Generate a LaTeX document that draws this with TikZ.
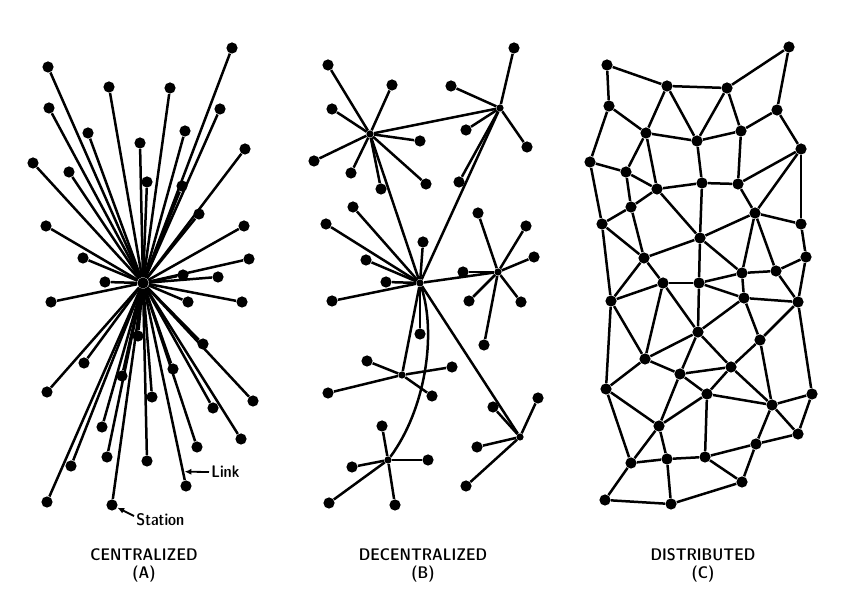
\documentclass[tikz,border=0pt]{standalone}
\usetikzlibrary{arrows.meta}
\tikzset{
    station/.style={ % a station of the network
        circle, fill=black, inner sep=0pt,
        minimum size=5.6pt
    },
    switch/.style={ % small hub of a decentralized star
        circle, fill=black, inner sep=0pt,
        minimum size=3.6pt
    },
    every edge/.style={ % the links
        draw,
        line width=1.25pt
    },
    pointer/.style={draw, line width=0.9pt, -{Latex[length=3.4pt,width=3pt]}},
    caption/.style={font=\sffamily\fontseries{sbc}\fontsize{8.4}{9}\selectfont, align=center},
    tag/.style={font=\sffamily\fontseries{sbc}\fontsize{8.4}{9}\selectfont, inner sep=1pt}
}

\begin{document}
\begin{tikzpicture}[x=0.5pt, y=-0.5pt]
    \useasboundingbox (0,0) rectangle (857,608);

    % (A) centralized
    \node[station] (hubA) at (143,283) {};
    \node[station] (a1) at (232,48) {};
    \node[station] (a2) at (48,67) {};
    \node[station] (a3) at (109,87) {};
    \node[station] (a4) at (170,88) {};
    \node[station] (a5) at (49,108) {};
    \node[station] (a6) at (220,109) {};
    \node[station] (a7) at (88,133) {};
    \node[station] (a8) at (185,131) {};
    \node[station] (a9) at (140,143) {};
    \node[station] (a10) at (245,149) {};
    \node[station] (a11) at (33,163) {};
    \node[station] (a12) at (69,172) {};
    \node[station] (a13) at (147,182) {};
    \node[station] (a14) at (182,186) {};
    \node[station] (a15) at (199,214) {};
    \node[station] (a16) at (46,226) {};
    \node[station] (a17) at (244,226) {};
    \node[station] (a18) at (83,258) {};
    \node[station] (a19) at (249,259) {};
    \node[station] (a20) at (183,275) {};
    \node[station] (a21) at (218,277) {};
    \node[station] (a22) at (105,282) {};
    \node[station] (a23) at (51,302) {};
    \node[station] (a24) at (188,302) {};
    \node[station] (a25) at (242,302) {};
    \node[station] (a26) at (138,336) {};
    \node[station] (a27) at (203,344) {};
    \node[station] (a28) at (84,363) {};
    \node[station] (a29) at (173,369) {};
    \node[station] (a30) at (122,376) {};
    \node[station] (a31) at (47,392) {};
    \node[station] (a32) at (152,397) {};
    \node[station] (a33) at (253,401) {};
    \node[station] (a34) at (213,408) {};
    \node[station] (a35) at (102,427) {};
    \node[station] (a36) at (241,439) {};
    \node[station] (a37) at (197,447) {};
    \node[station] (a38) at (107,457) {};
    \node[station] (a39) at (147,461) {};
    \node[station] (a40) at (71,466) {};
    \node[station] (a41) at (186,486) {};
    \node[station] (a42) at (47,502) {};
    \node[station] (a43) at (112,505) {};
    \draw (hubA) edge (a1) edge (a2) edge (a3) edge (a4) edge (a5) edge (a6)
        edge (a7) edge (a8) edge (a9) edge (a10) edge (a11) edge (a12)
        edge (a13) edge (a14) edge (a15) edge (a16) edge (a17) edge (a18)
        edge (a19) edge (a20) edge (a21) edge (a22) edge (a23) edge (a24)
        edge (a25) edge (a26) edge (a27) edge (a28) edge (a29) edge (a30)
        edge (a31) edge (a32) edge (a33) edge (a34) edge (a35) edge (a36)
        edge (a37) edge (a38) edge (a39) edge (a40) edge (a41) edge (a42)
        edge (a43);

    % labels of (A)
    \coordinate (linkpt) at (184.5,471.7);
    \node[tag, anchor=west] (linklbl) at (209,472) {Link};
    \node[tag, anchor=west] (stationlbl) at (134,520) {Station};
    \draw[pointer] (linklbl.west) -- (linkpt);
    \draw[pointer] ([yshift=2pt]stationlbl.west) -- (a43);

    % (B) decentralized
    \node[switch] (hubB1) at (370,134) {};
    \node[switch] (hubB2) at (500,108) {};
    \node[switch] (hubB3) at (420,283) {};
    \node[switch] (hubB4) at (498,272) {};
    \node[switch] (hubB5) at (402,375) {};
    \node[switch] (hubB6) at (388,460) {};
    \node[switch] (hubB7) at (520,437) {};
    \node[station] (b11) at (328,65) {};
    \node[station] (b12) at (392,85) {};
    \node[station] (b13) at (332,109) {};
    \node[station] (b14) at (420,141) {};
    \node[station] (b15) at (314,161) {};
    \node[station] (b16) at (351,173) {};
    \node[station] (b17) at (381,189) {};
    \node[station] (b18) at (426,184) {};
    \node[station] (b21) at (514,48) {};
    \node[station] (b22) at (451,86) {};
    \node[station] (b23) at (466,130) {};
    \node[station] (b24) at (527,147) {};
    \node[station] (b25) at (459,182) {};
    \node[station] (b31) at (353,207) {};
    \node[station] (b32) at (326,224) {};
    \node[station] (b33) at (423,242) {};
    \node[station] (b34) at (366,260) {};
    \node[station] (b35) at (386,282) {};
    \node[station] (b36) at (332,301) {};
    \node[station] (b37) at (420,334) {};
    \node[station] (b41) at (478,213) {};
    \node[station] (b42) at (526,226) {};
    \node[station] (b43) at (534,257) {};
    \node[station] (b44) at (463,272) {};
    \node[station] (b45) at (469,301) {};
    \node[station] (b46) at (521,302) {};
    \node[station] (b47) at (484,345) {};
    \node[station] (b51) at (367,361) {};
    \node[station] (b52) at (452,367) {};
    \node[station] (b53) at (328,393) {};
    \node[station] (b54) at (432,396) {};
    \node[station] (b61) at (382,426) {};
    \node[station] (b62) at (352,467) {};
    \node[station] (b63) at (428,460) {};
    \node[station] (b64) at (329,503) {};
    \node[station] (b65) at (395,505) {};
    \node[station] (b71) at (493,407) {};
    \node[station] (b72) at (538,398) {};
    \node[station] (b73) at (477,447) {};
    \node[station] (b74) at (466,486) {};
    \draw (hubB1) edge (b11) edge (b12) edge (b13) edge (b14) edge (b15)
        edge (b16) edge (b17) edge (b18) edge (hubB2) edge (hubB3);
    \draw (hubB2) edge (b21) edge (b22) edge (b23) edge (b24) edge (b25)
        edge (hubB3);
    \draw (hubB3) edge (b31) edge (b32) edge (b33) edge (b34) edge (b35)
        edge (b36) edge (b37) edge (hubB4) edge (hubB5) edge (hubB7);
    \draw (hubB4) edge (b41) edge (b42) edge (b43) edge (b44) edge (b45)
        edge (b46) edge (b47);
    \draw (hubB5) edge (b51) edge (b52) edge (b53) edge (b54);
    \draw (hubB6) edge (b61) edge (b62) edge (b63) edge (b64) edge (b65);
    \draw (hubB7) edge (b71) edge (b72) edge (b73) edge (b74);
    \draw[line width=1.25pt] (hubB3) .. controls (437,335) and (425,410) .. (hubB6);

    % (C) distributed
    \node[station] (c1) at (607,65) {};
    \node[station] (c2) at (789,47) {};
    \node[station] (c3) at (667,86) {};
    \node[station] (c4) at (727,88) {};
    \node[station] (c5) at (609,106) {};
    \node[station] (c6) at (777,110) {};
    \node[station] (c7) at (646,133) {};
    \node[station] (c8) at (697,141) {};
    \node[station] (c9) at (741,131) {};
    \node[station] (c10) at (801,149) {};
    \node[station] (c11) at (590,162) {};
    \node[station] (c12) at (626,172) {};
    \node[station] (c13) at (657,189) {};
    \node[station] (c14) at (702,183) {};
    \node[station] (c15) at (738,184) {};
    \node[station] (c16) at (631,207) {};
    \node[station] (c17) at (755,213) {};
    \node[station] (c18) at (602,224) {};
    \node[station] (c19) at (801,224) {};
    \node[station] (c20) at (700,238) {};
    \node[station] (c21) at (644,258) {};
    \node[station] (c22) at (806,257) {};
    \node[station] (c23) at (742,273) {};
    \node[station] (c24) at (776,271) {};
    \node[station] (c25) at (663,283) {};
    \node[station] (c26) at (699,283) {};
    \node[station] (c27) at (611,301) {};
    \node[station] (c28) at (744,298) {};
    \node[station] (c29) at (798,302) {};
    \node[station] (c30) at (698,332) {};
    \node[station] (c31) at (760,340) {};
    \node[station] (c32) at (645,359) {};
    \node[station] (c33) at (680,374) {};
    \node[station] (c34) at (731,367) {};
    \node[station] (c35) at (606,389) {};
    \node[station] (c36) at (707,394) {};
    \node[station] (c37) at (772,405) {};
    \node[station] (c38) at (812,394) {};
    \node[station] (c39) at (659,426) {};
    \node[station] (c40) at (756,444) {};
    \node[station] (c41) at (798,434) {};
    \node[station] (c42) at (631,463) {};
    \node[station] (c43) at (667,459) {};
    \node[station] (c44) at (705,457) {};
    \node[station] (c45) at (742,482) {};
    \node[station] (c46) at (605,500) {};
    \node[station] (c47) at (671,504) {};
    \draw (c1) edge (c3) edge (c5)
        (c2) edge (c4) edge (c6)
        (c3) edge (c4) edge (c7) edge (c8)
        (c4) edge (c8) edge (c9)
        (c5) edge (c7) edge (c11)
        (c6) edge (c9) edge (c10)
        (c7) edge (c8) edge (c12) edge (c13)
        (c8) edge (c9) edge (c14)
        (c9) edge (c15)
        (c10) edge (c15) edge (c17) edge (c19)
        (c11) edge (c12) edge (c18)
        (c12) edge (c13) edge (c16)
        (c13) edge (c14) edge (c16) edge (c20)
        (c14) edge (c15) edge (c20)
        (c15) edge (c17)
        (c16) edge (c18) edge (c21)
        (c17) edge (c19) edge (c20) edge (c23) edge (c24)
        (c18) edge (c21) edge (c27)
        (c19) edge (c22)
        (c20) edge (c21) edge (c23) edge (c26)
        (c21) edge (c25) edge (c27)
        (c22) edge (c24) edge (c29)
        (c23) edge (c24) edge (c26) edge (c28)
        (c24) edge (c29)
        (c25) edge (c26) edge (c27) edge (c30) edge (c32)
        (c26) edge (c28) edge (c30)
        (c27) edge (c32) edge (c35)
        (c28) edge (c29) edge (c30) edge (c31)
        (c29) edge (c31) edge (c38)
        (c30) edge (c32) edge (c33) edge (c34)
        (c31) edge (c34) edge (c37)
        (c32) edge (c33) edge (c35)
        (c33) edge (c34) edge (c36) edge (c39)
        (c34) edge (c36) edge (c37)
        (c35) edge (c39) edge (c42)
        (c36) edge (c37) edge (c39) edge (c44)
        (c37) edge (c38) edge (c40) edge (c41)
        (c38) edge (c41)
        (c39) edge (c42) edge (c43)
        (c40) edge (c41) edge (c44) edge (c45)
        (c42) edge (c43) edge (c46)
        (c43) edge (c44) edge (c47)
        (c44) edge (c45)
        (c45) edge (c47)
        (c46) edge (c47);

    % captions
    \node[caption] (capA) at (144,565) {CENTRALIZED\\(A)};
    \node[caption] (capB) at (423,565) {DECENTRALIZED\\(B)};
    \node[caption] (capC) at (703,565) {DISTRIBUTED\\(C)};
\end{tikzpicture}
\end{document}
